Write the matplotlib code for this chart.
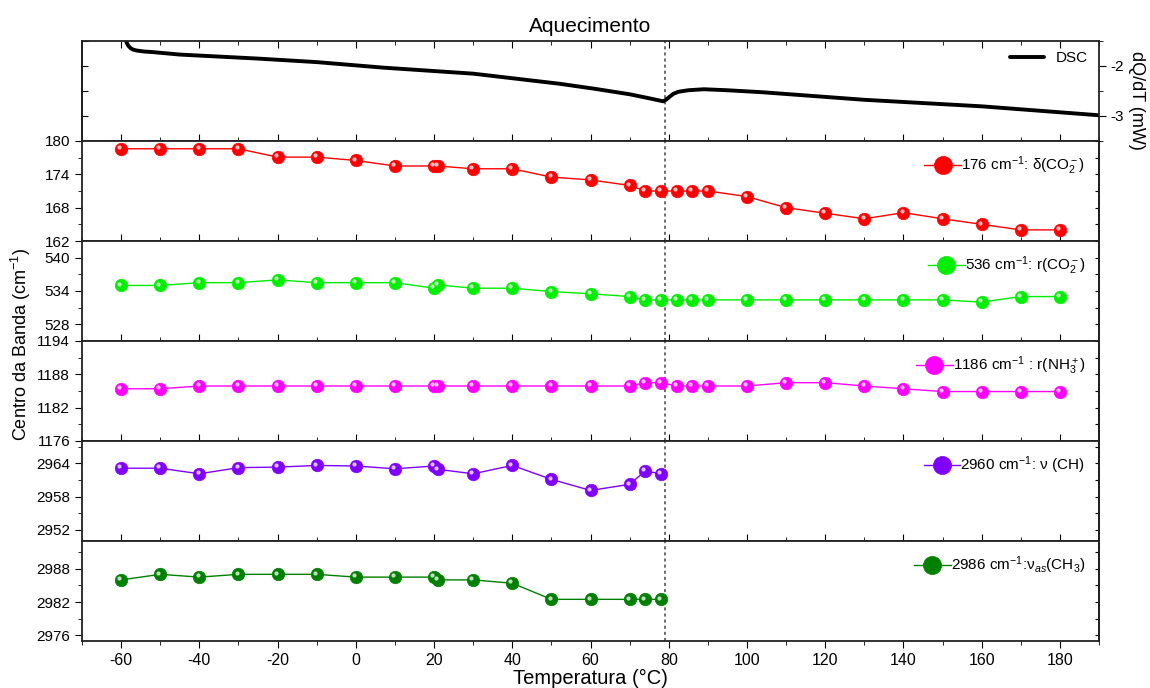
import numpy as np
import matplotlib
matplotlib.use('Agg')
import matplotlib.pyplot as plt
import matplotlib.transforms as mtransforms
from matplotlib.ticker import MultipleLocator

plt.rcParams['font.family'] = ['Liberation Sans', 'DejaVu Sans']
plt.rcParams['mathtext.fontset'] = 'custom'
plt.rcParams['mathtext.rm'] = 'Liberation Sans'
plt.rcParams['mathtext.it'] = 'Liberation Sans:italic'
plt.rcParams['axes.unicode_minus'] = False

# DSC curve
dsc_T = [-58.9, -58.6, -58.2, -57.6, -57.0, -56.0, -54.0, -52.0, -45.0, -35.0,
         -25.0, -10.0, 7.0, 30.0, 52.0, 61.0, 70.0, 75.0, 78.6, 79.3, 80.2,
         81.2, 82.5, 85.0, 89.0, 95.0, 104.0, 130.0, 160.0, 192.0]
dsc_val = [-1.45, -1.54, -1.60, -1.65, -1.68, -1.70, -1.72, -1.73, -1.78, -1.82,
           -1.86, -1.93, -2.04, -2.16, -2.36, -2.46, -2.57, -2.65, -2.71, -2.68,
           -2.62, -2.56, -2.52, -2.49, -2.47, -2.49, -2.53, -2.68, -2.81, -3.00]

# band centres
temp_full = [-60, -50, -40, -30, -20, -10, 0, 10, 20, 21, 30, 40, 50, 60, 70, 74, 78,
             82, 86, 90, 100, 110, 120, 130, 140, 150, 160, 170, 180]
temp_short = [-60, -50, -40, -30, -20, -10, 0, 10, 20, 21, 30, 40, 50, 60, 70, 74, 78]

b176 = [178.6, 178.6, 178.6, 178.6, 177.1, 177.1, 176.5, 175.5, 175.5, 175.5, 175.0,
        175.0, 173.5, 173.0, 172.0, 171.0, 171.0, 171.0, 171.0, 171.0, 170.0, 168.0,
        167.0, 166.0, 167.1, 166.0, 165.0, 164.0, 164.0]
b536 = [535.0, 535.0, 535.5, 535.5, 536.0, 535.5, 535.5, 535.5, 534.5, 535.1, 534.5,
        534.5, 533.9, 533.5, 533.0, 532.4, 532.4, 532.4, 532.4, 532.4, 532.4, 532.4,
        532.4, 532.4, 532.4, 532.4, 532.0, 533.0, 533.0]
b1186 = [1185.4, 1185.4, 1185.9, 1185.9, 1185.9, 1185.9, 1185.9, 1185.9, 1185.9,
         1185.9, 1185.9, 1185.9, 1185.9, 1185.9, 1185.9, 1186.5, 1186.5, 1185.9,
         1185.9, 1185.9, 1185.9, 1186.5, 1186.5, 1185.9, 1185.4, 1184.9, 1184.9,
         1184.9, 1184.9]
b2960 = [2963.1, 2963.1, 2962.1, 2963.2, 2963.3, 2963.6, 2963.5, 2963.0, 2963.5,
         2962.9, 2962.1, 2963.6, 2961.1, 2959.1, 2960.2, 2962.6, 2962.1]
b2986 = [2986.0, 2987.0, 2986.5, 2987.0, 2987.0, 2987.0, 2986.5, 2986.5, 2986.5,
         2986.0, 2986.0, 2985.4, 2982.5, 2982.5, 2982.5, 2982.5, 2982.5]

bands = [
    (temp_full, b176, '#FF0000', '176 cm$^{-1}$: δ(CO$_2^-$)', (162, 180), [162, 168, 174, 180]),
    (temp_full, b536, '#00EE00', '536 cm$^{-1}$: r(CO$_2^-$)', (525, 543), [528, 534, 540]),
    (temp_full, b1186, '#FF00FF', '1186 cm$^{-1}$ : r(NH$_3^+$)', (1176, 1194), [1176, 1182, 1188, 1194]),
    (temp_short, b2960, '#8000FF', '2960 cm$^{-1}$: ν (CH)', (2950, 2968), [2952, 2958, 2964]),
    (temp_short, b2986, '#008000', '2986 cm$^{-1}$:ν$_{as}$(CH$_3$)', (2975, 2993), [2976, 2982, 2988]),
]

t_glass = 79

fig = plt.figure(figsize=(11.5, 6.88), dpi=100)
left, right = 82 / 1150, 1099 / 1150
top_px = 40.5
heights = [100.5, 100, 100, 100, 100, 100]
axes = []
y = top_px
for h in heights:
    ax = fig.add_axes([left, 1 - (y + h) / 688, right - left, h / 688])
    axes.append(ax)
    y += h

spine_col = '#222222'
for ax in axes:
    ax.set_xlim(-70, 190)
    ax.xaxis.set_major_locator(MultipleLocator(20))
    ax.xaxis.set_minor_locator(MultipleLocator(10))
    for s in ax.spines.values():
        s.set_linewidth(1.3)
        s.set_color(spine_col)
    ax.axvline(t_glass, color='#444444', ls=(0, (2, 2)), lw=1.1, zorder=1)

# DSC panel
ax = axes[0]
ax.plot(dsc_T, dsc_val, color='black', lw=2.8, label='DSC',
        solid_capstyle='round', solid_joinstyle='round')
ax.set_ylim(-3.5, -1.5)
ax.yaxis.set_major_locator(MultipleLocator(1))
ax.yaxis.set_minor_locator(MultipleLocator(0.5))
ax.tick_params(axis='x', which='both', direction='in', top=True, labelbottom=False)
ax.tick_params(axis='x', which='major', length=5)
ax.tick_params(axis='x', which='minor', length=3)
ax.yaxis.tick_right()
ax.tick_params(axis='y', which='both', direction='out', labelsize=11)
ax.tick_params(axis='y', which='major', length=5)
ax.tick_params(axis='y', which='minor', length=3)
sec = ax.secondary_yaxis('left')
sec.yaxis.set_major_locator(MultipleLocator(0.5))
sec.tick_params(axis='y', direction='in', length=4, labelleft=False)
sec.spines['left'].set_linewidth(1.3)
fig.text(1137 / 1150, 1 - 100 / 688, 'dQ/dT (mW)', rotation=270, fontsize=13,
         ha='center', va='center')
ax.legend(loc='upper right', frameon=False, fontsize=11, handlelength=2.2,
          borderaxespad=0.3)
ax.set_title('Aquecimento', fontsize=15, pad=6)

for i, (tt, vals, col, lab, ylim, yticks) in enumerate(bands):
    ax = axes[i + 1]
    ax.plot(tt, vals, '-', color=col, lw=1.0, marker='o', ms=9, mfc=col,
            mec=col, mew=0.5, label=lab, zorder=3)
    hl = mtransforms.offset_copy(ax.transData, fig=fig, x=-1.3, y=1.3, units='points')
    ax.plot(tt, vals, 'o', ms=3, color='white', alpha=0.75, mec='none',
            transform=hl, zorder=4)
    ax.set_ylim(*ylim)
    ax.set_yticks(yticks)
    ax.yaxis.set_minor_locator(MultipleLocator(3))
    ax.tick_params(axis='y', which='both', direction='out', labelsize=11)
    ax.tick_params(axis='y', which='major', length=5)
    ax.tick_params(axis='y', which='minor', length=3)
    rs = ax.secondary_yaxis('right')
    rs.yaxis.set_major_locator(MultipleLocator(3))
    rs.tick_params(axis='y', direction='in', length=3, labelright=False)
    rs.spines['right'].set_linewidth(1.3)
    last = (i == len(bands) - 1)
    ax.tick_params(axis='x', which='both', direction='out' if last else 'in',
                   labelbottom=last, labelsize=11.5)
    ax.tick_params(axis='x', which='major', length=5)
    ax.tick_params(axis='x', which='minor', length=3)
    ax.legend(loc='upper right', frameon=False, fontsize=11, markerscale=1.45,
              handlelength=2.4, handletextpad=0.0, borderaxespad=0.5)

fig.text((left + right) / 2, 1 - 678 / 688, 'Temperatura (°C)', fontsize=14.5,
         ha='center', va='center')
fig.text(0.018, 0.50, 'Centro da Banda (cm$^{-1}$)', rotation=90, fontsize=13,
         ha='center', va='center')

fig.savefig('out.png', dpi=100)
